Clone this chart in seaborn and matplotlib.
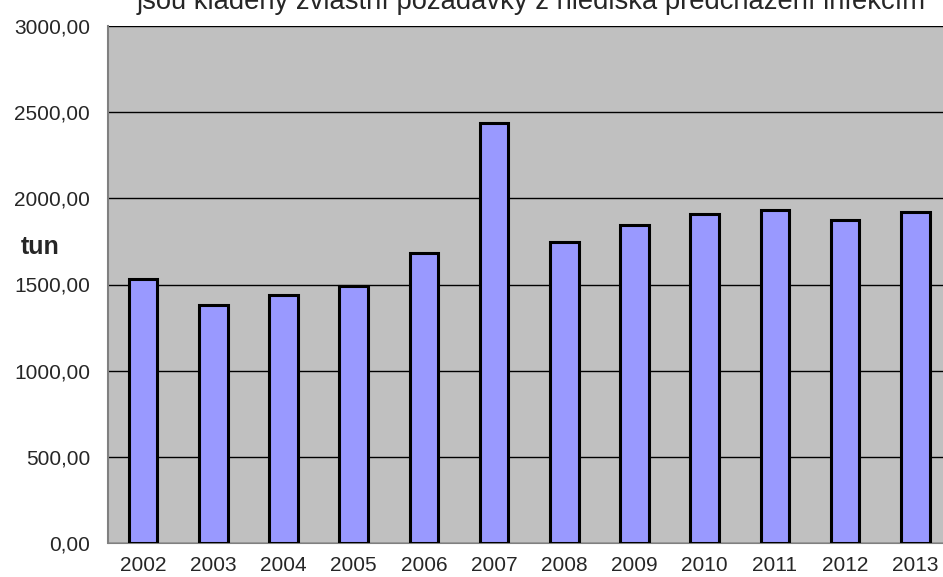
import numpy as np
import pandas as pd
import matplotlib
matplotlib.use("Agg")
import matplotlib.pyplot as plt
import seaborn as sns
from matplotlib.ticker import FuncFormatter, FixedLocator

years = ['2002', '2003', '2004', '2005', '2006', '2007',
         '2008', '2009', '2010', '2011', '2012', '2013']
tons = [1532, 1381, 1439, 1491, 1683, 2437, 1748, 1845, 1911, 1932, 1874, 1919]
y_ticks = [0, 500, 1000, 1500, 2000, 2500, 3000]
title = 'jsou kladeny zvláštní požadavky z hlediska předcházení infekcím'

df = pd.DataFrame({'rok': years, 'tun': tons})

sns.set_style('white')
plt.rcParams['font.family'] = ['Liberation Sans', 'DejaVu Sans']

fig = plt.figure(figsize=(9.43, 5.77), dpi=100)
# plot area runs past the right edge, like in the original
ax = fig.add_axes([108 / 943, 34 / 577, 842.4 / 943, 517 / 577])
ax.set_facecolor('#C0C0C0')

sns.barplot(data=df, x='rok', y='tun', color='#9999FF', saturation=1,
            edgecolor='black', linewidth=2.2, width=0.41, ax=ax, zorder=3)

ax.set_xlim(-0.5, len(years) - 0.5)
ax.set_ylim(0, 3000)
ax.set_yticks(y_ticks)
ax.yaxis.set_major_formatter(FuncFormatter(lambda v, p: f'{v:.2f}'.replace('.', ',')))
ax.grid(axis='y', color='black', linewidth=1)
ax.set_axisbelow(True)

ax.xaxis.set_minor_locator(FixedLocator(np.arange(-0.5, len(years), 1)))
ax.tick_params(axis='x', which='major', length=0, pad=9.5, labelsize=15)
ax.tick_params(axis='x', which='minor', length=4, color='black', width=1, direction='out')
ax.tick_params(axis='y', length=4, color='black', width=1, direction='out', pad=9, labelsize=15)

for s in ['top', 'right']:
    ax.spines[s].set_visible(False)
ax.spines['left'].set_color('#808080')
ax.spines['bottom'].set_color('#808080')
ax.spines['left'].set_linewidth(1.5)

ax.set_xlabel('')
ax.set_ylabel('tun', rotation=0, fontsize=18, fontweight='bold', labelpad=0,
              va='center', ha='center')
ax.yaxis.set_label_coords((40 - 108) / 842.4, (543 - 247) / 517)

fig.text(531 / 943, 1 - 9 / 577, title, ha='center', va='baseline', fontsize=19.7)

fig.savefig('out.png', dpi=100)
